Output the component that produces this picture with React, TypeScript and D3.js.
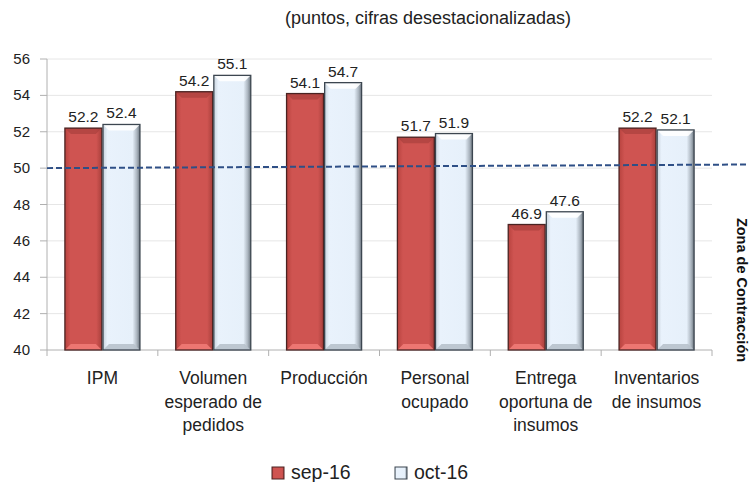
import React from "react";
import * as d3 from "d3";

const categories = [
  ["IPM"],
  ["Volumen", "esperado de", "pedidos"],
  ["Producción"],
  ["Personal", "ocupado"],
  ["Entrega", "oportuna de", "insumos"],
  ["Inventarios", "de insumos"],
];
const series = ["sep-16", "oct-16"];
const sep16 = [52.2, 54.2, 54.1, 51.7, 46.9, 52.2];
const oct16 = [52.4, 55.1, 54.7, 51.9, 47.6, 52.1];
const yTicks = [40, 42, 44, 46, 48, 50, 52, 54, 56];
const threshold = 50;

const W = 749;
const H = 482;
const font = "'Liberation Sans', Arial, sans-serif";

// bevelled bar like the Excel preset
function Bar({ x, y, w, h, kind }: { x: number; y: number; w: number; h: number; kind: number }) {
  const b = Math.min(6, h / 4);
  const red = kind === 0;
  return (
    <g>
      <rect x={x} y={y} width={w} height={h} fill={red ? "url(#gRed)" : "url(#gBlue)"} />
      <polygon
        points={`${x},${y} ${x + w},${y} ${x + w - b},${y + b} ${x + b},${y + b}`}
        fill={red ? "#a9403d" : "#ffffff"}
        opacity={red ? 0.7 : 0.9}
      />
      <polygon
        points={`${x},${y + h} ${x + w},${y + h} ${x + w - b},${y + h - b} ${x + b},${y + h - b}`}
        fill={red ? "#f07a76" : "#b8c2cc"}
        opacity={0.9}
      />
      <rect x={x} y={y} width={w} height={h} fill="none" stroke={red ? "#4a2322" : "#3c4650"} strokeWidth={1.3} />
    </g>
  );
}

export default function App() {
  const left = 47;
  const right = 712;
  const top = 59;
  const bottom = 350;

  const x = d3.scaleBand<number>().domain(d3.range(categories.length)).range([left, right]).paddingInner(0).paddingOuter(0);
  const inner = d3.scaleBand<number>().domain([0, 1]).range([0, x.bandwidth()]).paddingInner(0.03).paddingOuter(0.47);
  const y = d3.scaleLinear().domain([40, 56]).range([bottom, top]);
  const values = [sep16, oct16];

  return (
    <svg width={W} height={H} style={{ position: "absolute", left: 0, top: 0 }} fontFamily={font}>
      <defs>
        <linearGradient id="gRed" x1="0" x2="1" y1="0" y2="0">
          <stop offset="0" stopColor="#b8433f" />
          <stop offset="0.15" stopColor="#cf5451" />
          <stop offset="0.85" stopColor="#cf5451" />
          <stop offset="1" stopColor="#a8403c" />
        </linearGradient>
        <linearGradient id="gBlue" x1="0" x2="1" y1="0" y2="0">
          <stop offset="0" stopColor="#c9d3dd" />
          <stop offset="0.12" stopColor="#e9f2fc" />
          <stop offset="0.8" stopColor="#e6f0fa" />
          <stop offset="0.92" stopColor="#aab4be" />
          <stop offset="1" stopColor="#6d7780" />
        </linearGradient>
      </defs>

      <text x={428} y={24} textAnchor="middle" fontSize={18} fill="#222">
        (puntos, cifras desestacionalizadas)
      </text>

      {yTicks.map((t) => (
        <g key={t}>
          {t > 40 && <line x1={left} x2={right} y1={y(t)} y2={y(t)} stroke="#e6e6e6" />}
          <line x1={left - 7} x2={left} y1={y(t)} y2={y(t)} stroke="#b0b0b0" />
          <text x={30} y={y(t) + 5} textAnchor="end" fontSize={15} fill="#222">
            {t}
          </text>
        </g>
      ))}
      <line x1={left} x2={left} y1={top} y2={bottom} stroke="#b0b0b0" />
      <line x1={left} x2={right} y1={bottom} y2={bottom} stroke="#b0b0b0" />
      {d3.range(categories.length + 1).map((i) => {
        const xx = i < categories.length ? x(i)! : right;
        return <line key={i} x1={xx} x2={xx} y1={bottom} y2={bottom + 6} stroke="#b0b0b0" />;
      })}

      {categories.map((c, i) => (
        <g key={i}>
          {values.map((vals, s) => {
            const bx = x(i)! + inner(s)!;
            const bw = inner.bandwidth();
            return (
              <g key={s}>
                <Bar x={bx} y={y(vals[i])} w={bw} h={bottom - y(vals[i])} kind={s} />
                <text x={bx + bw / 2} y={y(vals[i]) - 6} textAnchor="middle" fontSize={15.5} fill="#222">
                  {vals[i].toFixed(1)}
                </text>
              </g>
            );
          })}
          {c.map((line, k) => (
            <text key={k} x={x(i)! + x.bandwidth() / 2} y={384 + k * 23.5} textAnchor="middle" fontSize={17.5} fill="#222">
              {line}
            </text>
          ))}
        </g>
      ))}

      <line
        x1={left}
        x2={W}
        y1={y(threshold)}
        y2={y(threshold + 0.2)}
        stroke="#2e4f86"
        strokeWidth={2}
        strokeDasharray="6,3"
      />

      <text
        transform={`translate(737,290) rotate(90)`}
        textAnchor="middle"
        fontSize={14.5}
        fontWeight="bold"
        fill="#111"
      >
        Zona de Contracción
      </text>

      {series.map((s, k) => (
        <g key={s} transform={`translate(${272 + k * 123},467)`}>
          <rect width={12} height={12} fill={k === 0 ? "url(#gRed)" : "url(#gBlue)"} stroke={k === 0 ? "#4a2322" : "#3c4650"} />
          <text x={19} y={12} fontSize={19.5} fill="#222">
            {s}
          </text>
        </g>
      ))}
    </svg>
  );
}
